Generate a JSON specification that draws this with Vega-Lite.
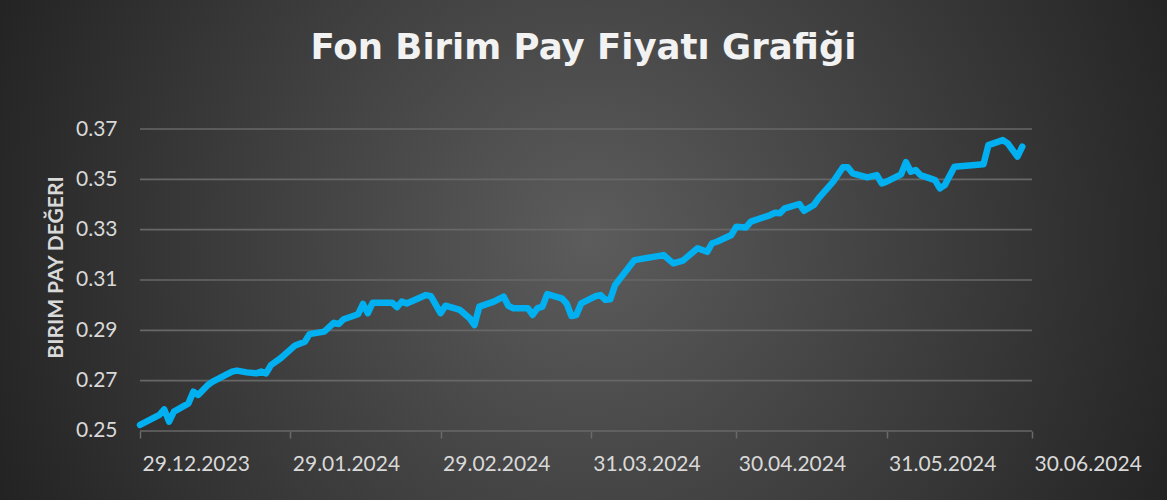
{
  "$schema": "https://vega.github.io/schema/vega-lite/v6.json",
  "width": 1167,
  "height": 500,
  "autosize": {"type": "none"},
  "padding": 0,
  "background": "#2b2b2b",
  "view": {
    "stroke": null,
    "fill": {
      "gradient": "radial",
      "x1": 0.505, "y1": 0.49, "r1": 0,
      "x2": 0.505, "y2": 0.49, "r2": 0.55,
      "stops": [
        {"offset": 0, "color": "#5c5c5c"},
        {"offset": 1, "color": "#232323"}
      ]
    }
  },
  "title": {
    "text": "Fon Birim Pay Fiyatı Grafiği",
    "font": "DejaVu Sans",
    "fontSize": 35.5,
    "fontWeight": "bold",
    "color": "#f2f2f2",
    "anchor": "middle",
    "frame": "group",
    "baseline": "alphabetic",
    "offset": -94
  },
  "layer": [
    {
      "data": {"values": [{"g": 0.25}, {"g": 0.27}, {"g": 0.29}, {"g": 0.31}, {"g": 0.33}, {"g": 0.35}, {"g": 0.37}]},
      "mark": {"type": "rule", "color": "#676767", "strokeWidth": 1.6},
      "encoding": {
        "y": {"field": "g", "type": "quantitative",
              "scale": {"domain": [0.22258, 0.42126], "nice": false, "zero": false},
              "axis": {
                "orient": "left", "offset": -140,
                "values": [0.25, 0.27, 0.29, 0.31, 0.33, 0.35, 0.37],
                "labelExpr": "format(datum.value, '.2f')",
                "labelPadding": 23, "labelFont": "Lato", "labelFontSize": 21, "labelColor": "#d9d9d9",
                "ticks": false, "domain": false, "grid": false,
                "title": "BIRIM PAY DEĞERI",
                "titleFont": "Lato", "titleFontSize": 21, "titleFontWeight": "bold", "titleColor": "#d9d9d9",
                "titleAngle": -90, "titleAlign": "center", "titleBaseline": "alphabetic",
                "titleX": -78, "titleY": 267
              }},
        "x": {"datum": {"year": 2023, "month": 12, "date": 29, "utc": true}, "type": "temporal",
              "scale": {"type": "utc", "nice": false,
                        "domain": [{"year": 2023, "month": 11, "date": 30, "hours": 2, "minutes": 54, "utc": true},
                                   {"year": 2024, "month": 7, "date": 27, "hours": 20, "minutes": 21, "utc": true}]},
              "axis": {
                "orient": "bottom", "offset": -69, "title": null,
                "values": [
                  {"year": 2023, "month": 12, "date": 29, "utc": true},
                  {"year": 2024, "month": 1, "date": 29, "utc": true},
                  {"year": 2024, "month": 2, "date": 29, "utc": true},
                  {"year": 2024, "month": 3, "date": 31, "utc": true},
                  {"year": 2024, "month": 4, "date": 30, "utc": true},
                  {"year": 2024, "month": 5, "date": 31, "utc": true},
                  {"year": 2024, "month": 6, "date": 30, "utc": true}
                ],
                "labelExpr": "utcFormat(datum.value, '%d.%m.%Y')",
                "labelAlign": "left", "labelBaseline": "top", "labelPadding": 15, "labelOffset": 2,
                "labelFont": "Lato", "labelFontSize": 21, "labelColor": "#d9d9d9",
                "labelFlush": false, "labelOverlap": false, "labelBound": false,
                "tickColor": "#6a6a6a", "tickSize": 7, "tickWidth": 1.5,
                "domain": false, "grid": false
              }},
        "x2": {"datum": {"year": 2024, "month": 6, "date": 30, "utc": true}}
      }
    },
    {
      "data": {"values": [
        {"d": "2023-12-29", "v": 0.2524},
        {"d": "2024-01-02", "v": 0.2564},
        {"d": "2024-01-03", "v": 0.2586},
        {"d": "2024-01-04", "v": 0.2537},
        {"d": "2024-01-05", "v": 0.2577},
        {"d": "2024-01-08", "v": 0.2610},
        {"d": "2024-01-09", "v": 0.2656},
        {"d": "2024-01-10", "v": 0.2643},
        {"d": "2024-01-12", "v": 0.2683},
        {"d": "2024-01-13", "v": 0.2696},
        {"d": "2024-01-15", "v": 0.2716},
        {"d": "2024-01-17", "v": 0.2736},
        {"d": "2024-01-18", "v": 0.2740},
        {"d": "2024-01-20", "v": 0.2733},
        {"d": "2024-01-22", "v": 0.2729},
        {"d": "2024-01-23", "v": 0.2736},
        {"d": "2024-01-24", "v": 0.2729},
        {"d": "2024-01-25", "v": 0.2762},
        {"d": "2024-01-27", "v": 0.2789},
        {"d": "2024-01-30", "v": 0.2840},
        {"d": "2024-02-01", "v": 0.2855},
        {"d": "2024-02-02", "v": 0.2885},
        {"d": "2024-02-05", "v": 0.2895},
        {"d": "2024-02-07", "v": 0.2930},
        {"d": "2024-02-08", "v": 0.2925},
        {"d": "2024-02-09", "v": 0.2944},
        {"d": "2024-02-12", "v": 0.2964},
        {"d": "2024-02-13", "v": 0.3005},
        {"d": "2024-02-14", "v": 0.2968},
        {"d": "2024-02-15", "v": 0.3010},
        {"d": "2024-02-19", "v": 0.3010},
        {"d": "2024-02-20", "v": 0.2992},
        {"d": "2024-02-21", "v": 0.3014},
        {"d": "2024-02-22", "v": 0.3007},
        {"d": "2024-02-26", "v": 0.3040},
        {"d": "2024-02-27", "v": 0.3036},
        {"d": "2024-02-29", "v": 0.2968},
        {"d": "2024-03-01", "v": 0.2998},
        {"d": "2024-03-04", "v": 0.2981},
        {"d": "2024-03-06", "v": 0.2948},
        {"d": "2024-03-07", "v": 0.2921},
        {"d": "2024-03-08", "v": 0.2994},
        {"d": "2024-03-11", "v": 0.3014},
        {"d": "2024-03-13", "v": 0.3034},
        {"d": "2024-03-14", "v": 0.2997},
        {"d": "2024-03-15", "v": 0.2988},
        {"d": "2024-03-18", "v": 0.2988},
        {"d": "2024-03-19", "v": 0.2961},
        {"d": "2024-03-20", "v": 0.2988},
        {"d": "2024-03-21", "v": 0.2994},
        {"d": "2024-03-22", "v": 0.3044},
        {"d": "2024-03-25", "v": 0.3027},
        {"d": "2024-03-26", "v": 0.3007},
        {"d": "2024-03-27", "v": 0.2957},
        {"d": "2024-03-28", "v": 0.2961},
        {"d": "2024-03-29", "v": 0.3007},
        {"d": "2024-04-01", "v": 0.3036},
        {"d": "2024-04-02", "v": 0.3040},
        {"d": "2024-04-03", "v": 0.3021},
        {"d": "2024-04-04", "v": 0.3023},
        {"d": "2024-04-05", "v": 0.3080},
        {"d": "2024-04-09", "v": 0.3179},
        {"d": "2024-04-15", "v": 0.3199},
        {"d": "2024-04-17", "v": 0.3166},
        {"d": "2024-04-19", "v": 0.3177},
        {"d": "2024-04-22", "v": 0.3226},
        {"d": "2024-04-24", "v": 0.3212},
        {"d": "2024-04-25", "v": 0.3246},
        {"d": "2024-04-26", "v": 0.3252},
        {"d": "2024-04-29", "v": 0.3279},
        {"d": "2024-04-30", "v": 0.3312},
        {"d": "2024-05-02", "v": 0.3309},
        {"d": "2024-05-03", "v": 0.3332},
        {"d": "2024-05-07", "v": 0.3358},
        {"d": "2024-05-08", "v": 0.3367},
        {"d": "2024-05-09", "v": 0.3365},
        {"d": "2024-05-10", "v": 0.3385},
        {"d": "2024-05-13", "v": 0.3402},
        {"d": "2024-05-14", "v": 0.3375},
        {"d": "2024-05-16", "v": 0.3398},
        {"d": "2024-05-17", "v": 0.3425},
        {"d": "2024-05-20", "v": 0.3491},
        {"d": "2024-05-22", "v": 0.3548},
        {"d": "2024-05-23", "v": 0.3548},
        {"d": "2024-05-24", "v": 0.3524},
        {"d": "2024-05-27", "v": 0.3508},
        {"d": "2024-05-29", "v": 0.3517},
        {"d": "2024-05-30", "v": 0.3484},
        {"d": "2024-05-31", "v": 0.3491},
        {"d": "2024-06-03", "v": 0.3520},
        {"d": "2024-06-04", "v": 0.3568},
        {"d": "2024-06-05", "v": 0.3530},
        {"d": "2024-06-06", "v": 0.3537},
        {"d": "2024-06-07", "v": 0.3517},
        {"d": "2024-06-10", "v": 0.3497},
        {"d": "2024-06-11", "v": 0.3464},
        {"d": "2024-06-12", "v": 0.3477},
        {"d": "2024-06-14", "v": 0.3550},
        {"d": "2024-06-20", "v": 0.3560},
        {"d": "2024-06-21", "v": 0.3636},
        {"d": "2024-06-24", "v": 0.3656},
        {"d": "2024-06-25", "v": 0.3643},
        {"d": "2024-06-27", "v": 0.3590},
        {"d": "2024-06-28", "v": 0.3630}
      ]},
      "mark": {"type": "line", "color": "#00B0F0", "strokeWidth": 6.5, "strokeCap": "round", "strokeJoin": "round"},
      "encoding": {
        "x": {"field": "d", "type": "temporal",
              "scale": {"type": "utc", "nice": false,
                        "domain": [{"year": 2023, "month": 11, "date": 30, "hours": 2, "minutes": 54, "utc": true},
                                   {"year": 2024, "month": 7, "date": 27, "hours": 20, "minutes": 21, "utc": true}]},
              "axis": {
                "orient": "bottom", "offset": -69, "title": null,
                "values": [
                  {"year": 2023, "month": 12, "date": 29, "utc": true},
                  {"year": 2024, "month": 1, "date": 29, "utc": true},
                  {"year": 2024, "month": 2, "date": 29, "utc": true},
                  {"year": 2024, "month": 3, "date": 31, "utc": true},
                  {"year": 2024, "month": 4, "date": 30, "utc": true},
                  {"year": 2024, "month": 5, "date": 31, "utc": true},
                  {"year": 2024, "month": 6, "date": 30, "utc": true}
                ],
                "labelExpr": "utcFormat(datum.value, '%d.%m.%Y')",
                "labelAlign": "left", "labelBaseline": "top", "labelPadding": 15, "labelOffset": 2,
                "labelFont": "Lato", "labelFontSize": 21, "labelColor": "#d9d9d9",
                "labelFlush": false, "labelOverlap": false, "labelBound": false,
                "tickColor": "#6a6a6a", "tickSize": 7, "tickWidth": 1.5,
                "domain": false, "grid": false
              }},
        "y": {"field": "v", "type": "quantitative",
              "scale": {"domain": [0.22258, 0.42126], "nice": false, "zero": false},
              "axis": {
                "orient": "left", "offset": -140,
                "values": [0.25, 0.27, 0.29, 0.31, 0.33, 0.35, 0.37],
                "labelExpr": "format(datum.value, '.2f')",
                "labelPadding": 23, "labelFont": "Lato", "labelFontSize": 21, "labelColor": "#d9d9d9",
                "ticks": false, "domain": false, "grid": false,
                "title": "BIRIM PAY DEĞERI",
                "titleFont": "Lato", "titleFontSize": 21, "titleFontWeight": "bold", "titleColor": "#d9d9d9",
                "titleAngle": -90, "titleAlign": "center", "titleBaseline": "alphabetic",
                "titleX": -78, "titleY": 267
              }}
      }
    }
  ]
}
